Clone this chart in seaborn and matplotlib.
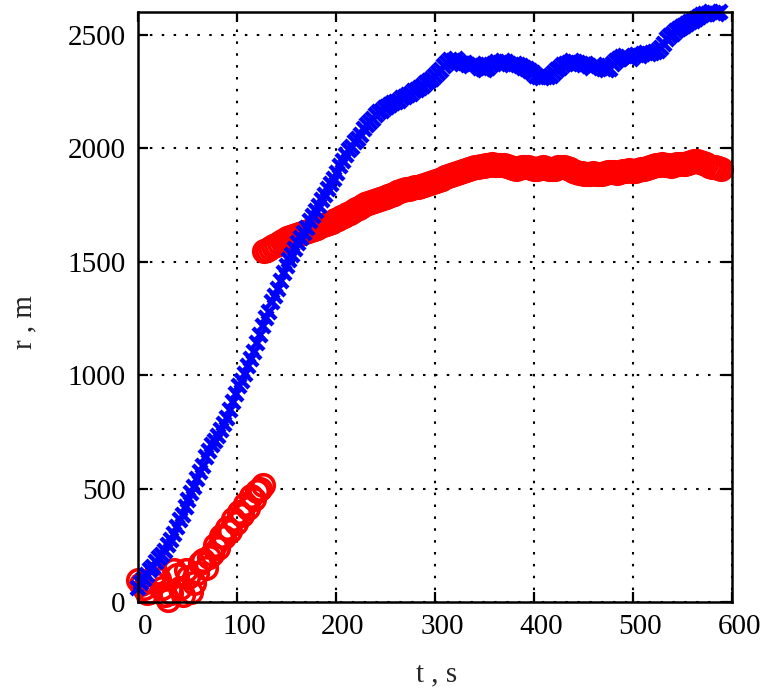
import numpy as np
import pandas as pd
import matplotlib
matplotlib.use("Agg")
import matplotlib.pyplot as plt
from matplotlib.transforms import ScaledTranslation
import seaborn as sns

# ---------------- data ----------------
blue_t0, blue_dt = 0, 3
blue_r = [
    60, 85, 100, 120, 140, 155, 175, 195, 205, 225,
    250, 275, 300, 330, 360, 385, 420, 450, 480, 505,
    540, 575, 600, 640, 665, 690, 710, 730, 760, 785,
    810, 845, 880, 915, 950, 975, 1005, 1040, 1070, 1100,
    1140, 1175, 1215, 1250, 1280, 1320, 1350, 1380, 1415, 1450,
    1480, 1505, 1530, 1555, 1580, 1605, 1625, 1650, 1680, 1700,
    1725, 1745, 1770, 1795, 1820, 1840, 1865, 1890, 1920, 1945,
    1970, 1990, 2005, 2025, 2040, 2060, 2085, 2100, 2115, 2130,
    2145, 2160, 2165, 2175, 2180, 2190, 2200, 2205, 2210, 2220,
    2225, 2235, 2240, 2250, 2255, 2265, 2275, 2285, 2295, 2305,
    2320, 2330, 2345, 2360, 2375, 2390, 2385, 2395, 2380, 2370,
    2375, 2365, 2360, 2370, 2365, 2355, 2350, 2345, 2355, 2365,
    2370, 2380, 2375, 2385, 2380, 2370, 2365, 2370, 2365, 2360,
    2355, 2350, 2340, 2330, 2320, 2315, 2310, 2315, 2312, 2320,
    2330, 2345, 2355, 2365, 2370, 2375, 2385, 2380, 2375, 2370,
    2365, 2370, 2360, 2355, 2365, 2360, 2355, 2350, 2345, 2350,
    2370, 2385, 2395, 2400, 2405, 2400, 2395, 2405, 2410, 2405,
    2415, 2420, 2415, 2420, 2425, 2430, 2440, 2460, 2480, 2495,
    2505, 2515, 2525, 2535, 2540, 2548, 2555, 2560, 2570, 2580,
    2585, 2590, 2590, 2600, 2595, 2590, 2600,
]

red_low_t0, red_low_dt = 0, 3
red_low_r = [
    97, 80, 60, 40, 44, 90, 127, 100, 62, 30,
    10, 40, 140, 120, 60, 30, 140, 110, 44, 84,
    130, 170, 185, 150, 200, 210, 250, 240, 290, 285,
    325, 315, 365, 350, 395, 385, 430, 415, 465, 455,
    490, 500, 515,
]

red_high_t0, red_high_dt = 127, 3
red_high_r = [
    1545, 1550, 1560, 1568, 1575, 1582, 1590, 1596, 1602, 1608,
    1612, 1618, 1622, 1628, 1632, 1636, 1640, 1645, 1650, 1655,
    1660, 1665, 1670, 1676, 1682, 1688, 1695, 1702, 1710, 1716,
    1722, 1730, 1738, 1745, 1752, 1758, 1762, 1766, 1770, 1775,
    1780, 1784, 1788, 1792, 1798, 1805, 1812, 1816, 1818, 1822,
    1825, 1828, 1830, 1834, 1838, 1842, 1846, 1850, 1855, 1860,
    1866, 1872, 1878, 1882, 1886, 1890, 1895, 1900, 1904, 1908,
    1912, 1915, 1918, 1920, 1922, 1924, 1926, 1928, 1926, 1925,
    1926, 1924, 1920, 1916, 1912, 1910, 1912, 1915, 1918, 1916,
    1912, 1908, 1910, 1914, 1916, 1912, 1908, 1906, 1910, 1915,
    1918, 1916, 1912, 1906, 1900, 1896, 1892, 1890, 1888, 1886,
    1888, 1890, 1888, 1886, 1888, 1892, 1895, 1896, 1894, 1892,
    1895, 1898, 1900, 1902, 1900, 1898, 1902, 1906, 1910, 1914,
    1916, 1920, 1924, 1926, 1928, 1926, 1924, 1922, 1925, 1928,
    1930, 1932, 1930, 1934, 1938, 1942, 1944, 1940, 1935, 1928,
    1922, 1918, 1915, 1912, 1910,
]

x_ticks = [0, 100, 200, 300, 400, 500, 600]
y_ticks = [0, 500, 1000, 1500, 2000, 2500]
x_label = "t , s"
y_label = "r , m"

blue = pd.DataFrame({"t": blue_t0 + blue_dt * np.arange(len(blue_r)), "r": blue_r})
red_low = pd.DataFrame({"t": red_low_t0 + red_low_dt * np.arange(len(red_low_r)), "r": red_low_r})
red_high = pd.DataFrame({"t": red_high_t0 + red_high_dt * np.arange(len(red_high_r)), "r": red_high_r})

# ---------------- style ----------------
sns.set_style("white")
plt.rcParams["font.family"] = ["Liberation Serif", "DejaVu Serif"]

fig = plt.figure(figsize=(7.67, 6.97), dpi=100)
ax = fig.add_axes([138 / 767, 95 / 697, 594 / 767, 590 / 697])

red_kw = dict(linestyle="", marker="o", markersize=15.5, markerfacecolor="none",
              markeredgecolor="#ff0000", markeredgewidth=2.6, clip_on=False,
              estimator=None, sort=False, legend=False)
sns.lineplot(data=red_low, x="t", y="r", ax=ax, **red_kw)
sns.lineplot(data=red_high, x="t", y="r", ax=ax, **red_kw)
sns.lineplot(data=blue, x="t", y="r", ax=ax, linestyle="", marker="x",
             markersize=9.5, markeredgecolor="#0000ff", markeredgewidth=3.2,
             clip_on=False, estimator=None, sort=False, legend=False)

ax.set_xlim(0, 600)
ax.set_ylim(0, 2600)
ax.set_xticks(x_ticks)
ax.set_yticks(y_ticks)
ax.grid(True, color="black", linestyle=(0, (1.2, 4.5)), linewidth=1.5)
ax.set_axisbelow(True)

for s in ax.spines.values():
    s.set_visible(True)
    s.set_color("black")
    s.set_linewidth(1.8)

ax.tick_params(axis="both", which="major", direction="in", length=7, width=1.6,
               top=True, right=True, bottom=True, left=True,
               labelsize=21, colors="black", pad=9)

ax.set_xlabel(x_label, fontsize=21)
ax.set_ylabel(y_label, fontsize=21)
ax.xaxis.set_label_coords(0.503, -0.10)
ax.yaxis.set_label_coords(-0.17, 0.475)

offset = ScaledTranslation(7 / 100, 0, fig.dpi_scale_trans)
for lab in ax.get_xticklabels():
    lab.set_transform(lab.get_transform() + offset)

fig.savefig("out.png", dpi=100)
